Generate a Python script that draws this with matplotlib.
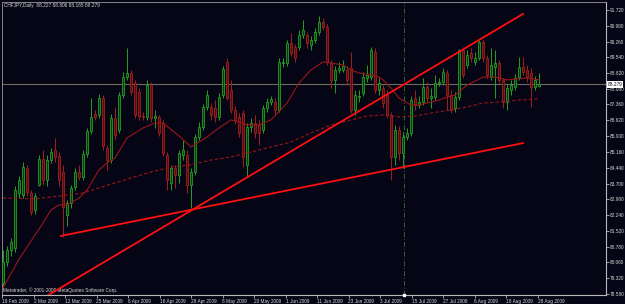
import matplotlib
matplotlib.use('Agg')
import matplotlib.pyplot as plt
import numpy as np
from matplotlib.transforms import blended_transform_factory

# ---------------- data ----------------
title_text = "CHFJPY,Daily  88.227 88.806 88.165 88.279"
copyright_text = "Metatrader, \u00a9 2001-2009 MetaQuotes Software Corp."

date_labels = ["19 Feb 2009", "2 Mar 2009", "12 Mar 2009", "25 Mar 2009", "6 Apr 2009",
               "16 Apr 2009", "28 Apr 2009", "8 May 2009", "20 May 2009", "1 Jun 2009",
               "11 Jun 2009", "23 Jun 2009", "3 Jul 2009", "15 Jul 2009", "27 Jul 2009",
               "6 Aug 2009", "18 Aug 2009", "28 Aug 2009"]

price_ticks = [91.720, 90.980, 90.260, 89.540, 88.820, 88.080, 87.360, 86.620, 85.900,
               85.160, 84.440, 83.700, 82.980, 82.240, 81.520, 80.780, 80.060, 79.320, 78.580]

opens = [79.10, 80.08, 80.63, 80.72, 83.26, 83.17, 84.42, 83.26, 82.48, 83.63,
         84.83, 83.86, 84.79, 85.25, 84.97, 84.23, 82.25, 82.80, 83.54, 84.23,
         84.00, 85.07, 86.13, 86.91, 86.87, 87.65, 85.34, 84.79, 86.73, 86.17,
         87.79, 88.62, 88.81, 88.35, 87.93, 86.82, 86.78, 88.25, 86.73, 86.78,
         86.50, 85.02, 83.73, 84.42, 84.10, 85.02, 85.02, 83.63, 84.23, 85.85,
         86.31, 87.24, 87.24, 87.19, 86.78, 87.79, 89.32, 88.02, 87.10, 86.78,
         86.96, 84.56, 86.31, 86.50, 86.41, 86.17, 87.19, 87.47, 87.47, 87.10,
         89.27, 89.27, 90.20, 90.01, 90.01, 90.56, 90.56, 90.10, 90.33, 90.70,
         91.17, 90.93, 89.27, 88.49, 88.95, 88.95, 88.95, 89.04, 87.10, 87.70,
         87.88, 88.58, 88.62, 89.78, 88.02, 88.12, 87.79, 86.87, 84.93, 86.17,
         85.11, 85.85, 86.04, 87.65, 87.33, 87.47, 88.16, 87.65, 87.70, 88.35,
         88.39, 88.81, 87.79, 87.19, 87.70, 89.87, 89.18, 89.73, 89.32, 89.50,
         90.24, 89.50, 88.62, 89.09, 89.27, 88.49, 87.47, 88.02, 88.16, 88.62,
         89.09, 88.95, 88.81, 88.16, 88.227]

highs = [80.63, 80.81, 81.18, 83.59, 84.05, 84.70, 84.56, 83.40, 83.26, 85.02,
         85.25, 85.02, 85.34, 85.81, 85.16, 84.56, 82.94, 83.63, 84.42, 84.56,
         85.25, 86.27, 87.65, 87.10, 87.84, 87.79, 85.48, 86.91, 87.24, 87.93,
         88.86, 89.96, 88.95, 88.49, 88.12, 87.01, 88.49, 88.39, 87.10, 86.87,
         86.64, 85.16, 84.56, 84.56, 85.25, 85.71, 85.25, 84.42, 85.99, 86.54,
         87.38, 88.02, 87.42, 87.56, 87.88, 89.13, 89.50, 88.49, 87.28, 86.96,
         87.10, 86.50, 86.73, 86.87, 86.64, 87.33, 87.65, 87.75, 87.65, 89.50,
         89.50, 90.33, 90.66, 90.15, 90.80, 91.26, 90.70, 90.52, 90.89, 91.44,
         91.35, 91.07, 89.41, 89.13, 89.32, 89.41, 89.13, 89.78, 88.02, 88.02,
         88.86, 89.18, 90.01, 89.96, 88.58, 88.25, 88.02, 87.01, 86.41, 86.36,
         86.08, 86.27, 87.75, 88.02, 87.75, 88.58, 88.39, 88.12, 88.72, 88.58,
         89.04, 88.95, 88.02, 87.93, 89.92, 90.01, 89.87, 89.96, 89.78, 90.33,
         90.33, 89.64, 89.96, 89.87, 89.41, 88.58, 88.30, 88.49, 88.76, 89.55,
         89.55, 89.18, 89.04, 88.67, 88.806]

lows = [78.83, 79.89, 80.35, 80.54, 83.03, 83.03, 83.13, 82.25, 82.29, 83.59,
        83.63, 83.59, 84.65, 84.70, 83.59, 81.23, 81.74, 82.57, 83.40, 83.86,
        83.86, 84.93, 85.99, 86.64, 86.73, 85.25, 84.33, 84.65, 85.71, 86.04,
        87.65, 88.49, 87.79, 86.73, 86.64, 86.64, 86.64, 86.54, 86.27, 85.90,
        84.97, 83.40, 83.40, 83.50, 83.73, 84.79, 83.26, 82.57, 84.10, 85.71,
        86.17, 87.10, 86.64, 86.54, 86.64, 87.65, 87.56, 86.96, 86.45, 85.85,
        84.47, 84.00, 86.08, 85.81, 85.48, 86.04, 87.01, 87.33, 86.87, 87.01,
        89.09, 89.13, 89.59, 89.32, 89.87, 90.43, 89.96, 89.87, 90.20, 90.56,
        90.80, 89.18, 88.12, 87.88, 88.81, 88.86, 88.25, 86.96, 86.87, 87.47,
        87.75, 88.39, 88.49, 87.88, 87.79, 87.19, 86.73, 83.86, 84.56, 84.79,
        84.42, 85.71, 85.90, 87.10, 87.19, 87.33, 87.47, 87.19, 87.56, 88.21,
        88.25, 87.10, 86.96, 87.01, 87.56, 88.58, 89.04, 89.32, 89.18, 89.41,
        89.32, 88.58, 88.49, 87.65, 88.35, 87.19, 87.10, 87.79, 88.02, 88.49,
        88.72, 88.39, 87.24, 88.02, 88.165]

closes = [80.08, 80.63, 81.00, 83.40, 83.86, 84.47, 83.31, 82.39, 83.13, 84.83,
          83.86, 84.79, 85.16, 84.93, 83.86, 82.62, 82.80, 83.50, 84.23, 84.00,
          85.07, 86.13, 86.78, 86.78, 87.65, 85.44, 84.79, 86.73, 85.94, 87.79,
          88.62, 88.81, 87.93, 86.87, 86.82, 86.78, 88.25, 86.73, 86.82, 86.04,
          85.11, 83.86, 84.42, 84.10, 85.11, 85.25, 83.63, 84.23, 85.85, 86.31,
          87.24, 87.79, 86.87, 86.78, 87.70, 88.99, 87.65, 87.10, 86.64, 86.04,
          84.93, 86.31, 86.50, 86.04, 86.04, 87.19, 87.47, 87.61, 87.10, 89.32,
          89.32, 90.20, 89.73, 89.50, 90.56, 90.80, 90.20, 90.33, 90.70, 91.17,
          90.93, 89.32, 88.49, 88.95, 89.04, 89.13, 88.49, 87.10, 87.79, 87.75,
          88.62, 88.72, 89.87, 88.02, 88.35, 87.42, 86.87, 84.93, 86.17, 85.11,
          85.85, 86.04, 87.56, 87.33, 87.47, 88.16, 87.65, 87.75, 88.35, 88.39,
          88.86, 87.79, 87.10, 87.70, 89.87, 88.72, 89.64, 89.50, 89.50, 90.24,
          89.50, 88.72, 89.18, 89.27, 88.49, 87.47, 88.12, 88.25, 88.58, 89.09,
          88.86, 88.62, 88.16, 88.49, 88.279]

ma_fast_bars = [0, 4, 8, 10, 12, 14, 16, 19, 21, 24, 26, 28, 31, 33, 35, 38, 40, 44, 47,
                51, 54, 57, 59, 61, 64, 67, 71, 74, 77, 80, 82, 85, 87, 89, 92, 94, 95,
                97, 99, 102, 104, 107, 109, 111, 113, 116, 120, 123, 126, 128, 131, 134]
ma_fast_vals = [78.87, 80.21, 81.32, 81.88, 82.48, 82.71, 82.71, 83.03, 83.40, 84.33,
                84.65, 84.88, 85.81, 86.04, 86.27, 86.50, 86.50, 85.90, 85.39, 85.85,
                86.27, 86.64, 86.54, 86.41, 86.41, 86.64, 87.42, 88.35, 88.95, 89.32,
                89.27, 89.18, 88.95, 88.81, 88.72, 88.62, 88.49, 88.12, 87.65, 87.33,
                87.33, 87.47, 87.56, 87.70, 87.79, 88.25, 88.62, 88.62, 88.49, 88.53,
                88.58, 88.49]

ma_slow_bars = [0, 8, 12, 16, 20, 24, 28, 32, 37, 42, 47, 52, 57, 62, 67, 72, 77, 82,
                87, 91, 95, 99, 103, 107, 112, 116, 120, 124, 129, 134]
ma_slow_vals = [83.03, 82.99, 83.08, 83.17, 83.26, 83.50, 83.73, 83.96, 84.23, 84.47,
                84.56, 84.79, 84.93, 85.16, 85.39, 85.62, 86.04, 86.41, 86.64, 86.82,
                86.87, 86.78, 86.82, 86.96, 87.10, 87.24, 87.42, 87.47, 87.56, 87.61]

trend_up_bars = [8.0, 130.0]
trend_up_prices = [78.18, 91.54]
trend_low_bars = [14.5, 130.0]
trend_low_prices = [81.28, 85.57]

current_price = 88.279
separator_bar = 100.25

# ---------------- style ----------------
bg = '#050516'
frame = '#b8b8b8'
txt = '#d8d8d8'
bull_edge, bull_fill = '#23a023', '#0c3a0c'
bear_edge, bear_fill = '#a02020', '#5a0b0b'
fam = ['Liberation Sans', 'DejaVu Sans']
fs = 3.4

fig = plt.figure(figsize=(6.25, 3.04), dpi=100)
fig.patch.set_facecolor(bg)
ax = fig.add_axes([2 / 625, 9 / 304, 604 / 625, 293 / 304])
ax.set_facecolor(bg)

o = np.array(opens); h = np.array(highs); l = np.array(lows); c = np.array(closes)
idx = np.arange(len(c))
up = c >= o
bottom = np.minimum(o, c)
height = np.maximum(np.abs(c - o), 0.02)

ax.vlines(idx[up], l[up], h[up], color=bull_edge, lw=0.7, zorder=2)
ax.vlines(idx[~up], l[~up], h[~up], color=bear_edge, lw=0.7, zorder=2)
ax.bar(idx[up], height[up], bottom=bottom[up], width=0.72, facecolor=bull_fill,
       edgecolor=bull_edge, linewidth=0.6, zorder=3)
ax.bar(idx[~up], height[~up], bottom=bottom[~up], width=0.72, facecolor=bear_fill,
       edgecolor=bear_edge, linewidth=0.6, zorder=3)

ax.plot(ma_fast_bars, ma_fast_vals, color='#9a1616', lw=0.8, zorder=4)
ax.plot(ma_slow_bars, ma_slow_vals, color='#9a1616', lw=0.8, ls=(0, (3, 2)), zorder=4)

ax.plot(trend_up_bars, trend_up_prices, color='#ff1010', lw=1.3, zorder=5)
ax.plot(trend_low_bars, trend_low_prices, color='#ff1010', lw=1.3, zorder=5)

ax.axhline(current_price, color='#6c6c5c', lw=0.8, zorder=1)
ax.axvline(separator_bar, color='#2a6a2a', lw=0.7, ls=(0, (5, 2, 1, 2)), zorder=1)

ymin, ymax = 78.55, 92.09
ax.set_xlim(-0.25, 150.75)
ax.set_ylim(ymin, ymax)
ax.plot([separator_bar], [ymin], marker='s', ms=1.8, color='white', clip_on=False, zorder=6)

for side in ['right', 'bottom']:
    ax.spines[side].set_color(frame)
    ax.spines[side].set_linewidth(0.8)
for side in ['top', 'left']:
    ax.spines[side].set_color('#9a9a9a')
    ax.spines[side].set_linewidth(0.6)
    ax.spines[side].set_linestyle((0, (1, 1)))

ax.yaxis.tick_right()
ax.set_yticks(price_ticks)
ax.set_yticklabels(['%.3f' % p for p in price_ticks], fontsize=fs, color=txt, family=fam)
ax.tick_params(axis='y', direction='out', length=2, width=0.6, color=frame, pad=1.0)

tick_pos = [-0.25 + 7.875 * k for k in range(len(date_labels))]
ax.set_xticks(tick_pos)
ax.set_xticklabels(date_labels, fontsize=fs, color=txt, family=fam, ha='left')
ax.tick_params(axis='x', direction='out', length=2, width=0.6, color=frame, pad=1)

trans = blended_transform_factory(ax.transAxes, ax.transData)
ax.text(1.0 + 1.5 / 604, current_price, '%.3f' % current_price, transform=trans,
        fontsize=fs, family=fam, color='black', va='center', ha='left', zorder=10,
        clip_on=False, bbox=dict(facecolor='white', edgecolor='none', pad=0.5))

fig.text(4 / 625, 1 - 5 / 304, title_text, fontsize=fs, family=fam, color=txt,
         va='center', ha='left')
ax.text(1 / 604, 5 / 293, copyright_text, transform=ax.transAxes, fontsize=fs,
        family=fam, color=txt, va='center', ha='left')

fig.savefig('out.png', dpi=100, facecolor=bg)
